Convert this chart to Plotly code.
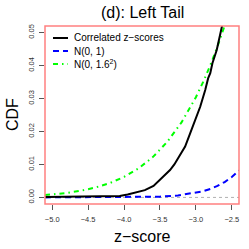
import plotly.graph_objects as go

# ---- data ----
corr_z = [-5.10, -4.60, -4.30, -4.06, -3.95, -3.87, -3.71, -3.59, -3.50, -3.43, -3.36, -3.30,
          -3.245, -3.15, -3.08, -3.01, -2.94, -2.87, -2.83, -2.80, -2.77, -2.71, -2.66, -2.63]
corr_cdf = [0.0001, 0.0002, 0.0003, 0.0004, 0.0009, 0.0014, 0.0022, 0.0035, 0.0053, 0.0067,
            0.0083, 0.0100, 0.0119, 0.0154, 0.0194, 0.0235, 0.0275, 0.0326, 0.0361, 0.0377,
            0.0407, 0.0447, 0.0493, 0.0526]

n01_z = [-5.1, -4.5, -4.0, -3.75, -3.5, -3.25, -3.0, -2.9, -2.8, -2.7, -2.6, -2.5, -2.4]
n01_cdf = [0.0000002, 0.0000034, 0.000032, 0.000088, 0.00023, 0.00058, 0.00135, 0.00187,
           0.00256, 0.00347, 0.00466, 0.00621, 0.0082]

n16_z = [-5.1, -5.0, -4.8, -4.6, -4.4, -4.2, -4.0, -3.8, -3.6, -3.4, -3.2, -3.0,
         -2.9, -2.8, -2.7, -2.6, -2.5]
n16_cdf = [0.00072, 0.00089, 0.00135, 0.00202, 0.00298, 0.00433, 0.00621, 0.00877,
           0.01222, 0.01680, 0.02275, 0.03040, 0.03495, 0.04006, 0.04575, 0.05210, 0.05910]

x_ticks = [-5.0, -4.5, -4.0, -3.5, -3.0, -2.5]
x_tick_labels = ["−5.0", "−4.5", "−4.0", "−3.5", "−3.0", "−2.5"]
y_ticks = [0.00, 0.01, 0.02, 0.03, 0.04, 0.05]
y_tick_labels = ["0.00", "0.01", "0.02", "0.03", "0.04", "0.05"]

legend_names = ["Correlated z−scores", "N(0, 1)", "N(0, 1.6<sup>2</sup>)"]
title_text = "(d): Left Tail"
x_label = "z−score"
y_label = "CDF"

FONT = "Liberation Sans, Arial, Helvetica, sans-serif"
colors = ["#000000", "#0000FF", "#00FF00"]
dashes = ["solid", "6px,4px", "5px,4px,1.5px,4px"]

W = H = 249
PL, PT = 45, 26          # plot-area left/top in pixels
plot_w, plot_h = 194, 178

fig = go.Figure()
fig.add_trace(go.Scatter(x=n16_z, y=n16_cdf, mode="lines", name=legend_names[2],
                         line=dict(color=colors[2], width=2, dash=dashes[2]), showlegend=False))
fig.add_trace(go.Scatter(x=n01_z, y=n01_cdf, mode="lines", name=legend_names[1],
                         line=dict(color=colors[1], width=2, dash=dashes[1]), showlegend=False))
fig.add_trace(go.Scatter(x=corr_z, y=corr_cdf, mode="lines", name=legend_names[0],
                         line=dict(color=colors[0], width=2, dash=dashes[0]), showlegend=False))

# horizontal reference line at 0
fig.add_shape(type="line", xref="paper", x0=0, x1=1, yref="y", y0=0, y1=0,
              line=dict(color="#b0b0b0", width=1, dash="3px,3px"), layer="below")
# plot box
fig.add_shape(type="rect", xref="paper", yref="paper", x0=0, x1=1, y0=0, y1=1,
              line=dict(color="#ff8080", width=1.5))

# manual legend (compact, like R)
rows_px = [38, 51, 64]  # pixel y of each legend row
for i, name in enumerate(legend_names):
    yp = 1 - (rows_px[i] - PT) / plot_h
    fig.add_shape(type="line", xref="paper", yref="paper",
                  x0=(53 - PL) / plot_w, x1=(68 - PL) / plot_w, y0=yp, y1=yp,
                  line=dict(color=colors[i], width=2, dash=dashes[i]))
    fig.add_annotation(x=(72 - PL) / plot_w, y=yp, xref="paper", yref="paper",
                       text=name, showarrow=False, xanchor="left", yanchor="middle",
                       font=dict(family=FONT, size=10, color="black"))

fig.add_annotation(x=0.5, y=1 + (PT - 12) / plot_h, xref="paper", yref="paper",
                   text=title_text, showarrow=False, xanchor="center", yanchor="middle",
                   font=dict(family=FONT, size=16, color="black"))
fig.add_annotation(x=0.5, y=-(236 - (PT + plot_h)) / plot_h, xref="paper", yref="paper",
                   text=x_label, showarrow=False, xanchor="center", yanchor="middle",
                   font=dict(family=FONT, size=16, color="black"))
fig.add_annotation(x=-(PL - 12) / plot_w, y=0.5, xref="paper", yref="paper",
                   text=y_label, showarrow=False, xanchor="center", yanchor="middle",
                   textangle=-90, font=dict(family=FONT, size=16, color="black"))

fig.update_layout(
    width=W, height=H,
    margin=dict(l=PL, r=W - PL - plot_w, t=PT, b=H - PT - plot_h, pad=0),
    paper_bgcolor="white", plot_bgcolor="white",
    font=dict(family=FONT, color="black"),
    xaxis=dict(range=[-5.1, -2.4], tickvals=x_ticks, ticktext=x_tick_labels,
               ticks="outside", ticklen=5, tickwidth=1, tickcolor="#555555",
               showgrid=False, zeroline=False, showline=False, ticklabelstandoff=3,
               tickfont=dict(family=FONT, size=7.5, color="#333333")),
    yaxis=dict(range=[-0.002, 0.052], tickvals=y_ticks, ticktext=y_tick_labels,
               ticks="outside", ticklen=5, tickwidth=1, tickcolor="#555555",
               showgrid=False, zeroline=False, showline=False, tickangle=-90,
               ticklabelstandoff=2,
               tickfont=dict(family=FONT, size=7.5, color="#333333")),
)

# remove the browser's default 8px body margin so the figure fills the window
fig.write_html("out.html",
               config={"displayModeBar": False, "staticPlot": True},
               post_script="document.body.style.margin='0';document.body.style.overflow='hidden';")
